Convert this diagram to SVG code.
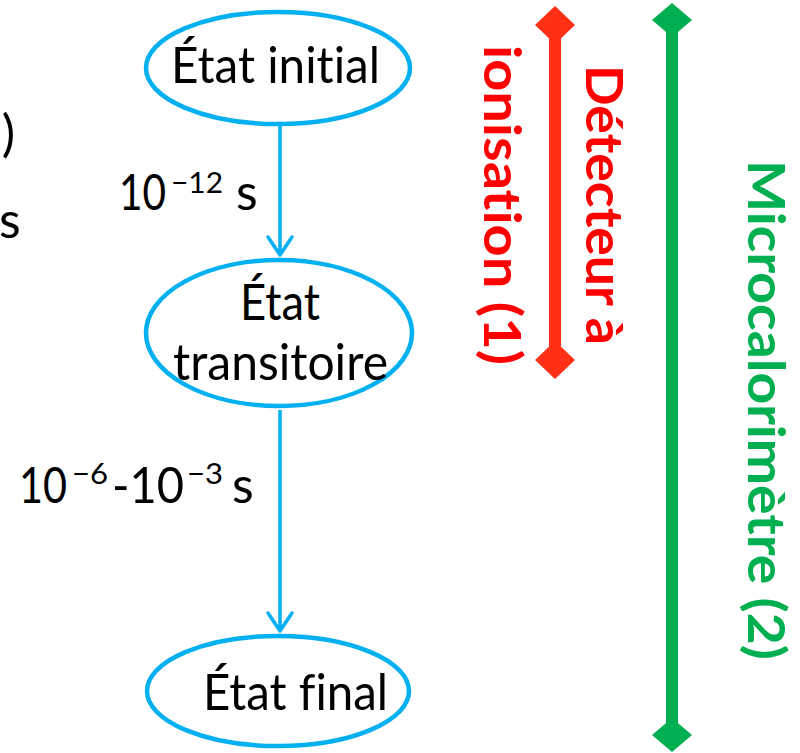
<svg xmlns="http://www.w3.org/2000/svg" width="800" height="753" viewBox="0 0 800 753">
  <defs>
    <style>
      text { font-variant-ligatures: none; font-feature-settings: "liga" 0, "clig" 0; }
      .state { fill: #ffffff; stroke: #00B0F0; stroke-width: 4.5; }
      .lbl { font-family: Lato, "Open Sans", sans-serif; font-size: 50px; fill: #000000; }
      .sup { font-size: 29px; }
      .flow { stroke: #00B0F0; stroke-width: 3.5; fill: none; }
      .head { stroke: #00B0F0; stroke-width: 3.5; fill: none; stroke-linecap: round; stroke-linejoin: round; }
      .red { font-family: Lato, "Open Sans", sans-serif; font-weight: bold; font-size: 52px; fill: #FF0000; }
      .green { font-family: Lato, "Open Sans", sans-serif; font-weight: bold; font-size: 52px; fill: #00B050; }
    </style>
  </defs>

  <rect x="0" y="0" width="800" height="753" fill="#ffffff"/>

  <!-- fragments of text at the left edge -->
  <text class="lbl" x="15" y="151" text-anchor="end">)</text>
  <text class="lbl" x="-1" y="238">s</text>

  <!-- connectors -->
  <g id="connectors">
    <line class="flow" x1="280" y1="126" x2="280" y2="255"/>
    <polyline class="head" points="268,237 280,255 292,237"/>
    <line class="flow" x1="280" y1="410" x2="280" y2="631"/>
    <polyline class="head" points="268,613 280,631 292,613"/>
  </g>

  <!-- delay labels -->
  <g id="delay1">
    <text class="lbl" x="119" y="210" textLength="47" lengthAdjust="spacingAndGlyphs">10</text>
    <text class="lbl sup" x="171" y="193" textLength="52" lengthAdjust="spacingAndGlyphs">−12</text>
    <text class="lbl" x="236" y="210">s</text>
  </g>
  <g id="delay2">
    <text class="lbl" x="19" y="503" textLength="48" lengthAdjust="spacingAndGlyphs">10</text>
    <text class="lbl sup" x="72" y="484" textLength="36" lengthAdjust="spacingAndGlyphs">−6</text>
    <text class="lbl" x="112" y="503" textLength="72" lengthAdjust="spacingAndGlyphs">-10</text>
    <text class="lbl sup" x="187" y="484" textLength="36" lengthAdjust="spacingAndGlyphs">−3</text>
    <text class="lbl" x="232" y="503">s</text>
  </g>

  <!-- states -->
  <g id="etat-initial">
    <ellipse class="state" cx="278" cy="68" rx="132" ry="56"/>
    <text class="lbl" x="171" y="83" textLength="209" lengthAdjust="spacingAndGlyphs">État initial</text>
  </g>
  <g id="etat-transitoire">
    <ellipse class="state" cx="279" cy="333" rx="133" ry="73"/>
    <text class="lbl" x="240" y="320" textLength="80" lengthAdjust="spacingAndGlyphs">État</text>
    <text class="lbl" x="173" y="380" textLength="215" lengthAdjust="spacingAndGlyphs">transitoire</text>
  </g>
  <g id="etat-final">
    <ellipse class="state" cx="278" cy="691" rx="131" ry="55"/>
    <text class="lbl" x="203" y="710" textLength="185" lengthAdjust="spacingAndGlyphs">État final</text>
  </g>

  <!-- ionisation detector range -->
  <g id="detecteur-ionisation">
    <line x1="555" y1="25" x2="555" y2="360" stroke="#FF3016" stroke-width="12"/>
    <polygon points="555,6 575,25 555,44 535,25" fill="#FF3016"/>
    <polygon points="555,341 575,360 555,379 535,360" fill="#FF3016"/>
    <text class="red" transform="translate(586,65) rotate(90)" x="0" y="0" textLength="280" lengthAdjust="spacingAndGlyphs">Détecteur à</text>
    <text class="red" transform="translate(484,45) rotate(90)" x="0" y="0" textLength="320" lengthAdjust="spacingAndGlyphs">ionisation (1)</text>
  </g>

  <!-- microcalorimeter range -->
  <g id="microcalorimetre">
    <line x1="672" y1="20" x2="672" y2="735" stroke="#00B050" stroke-width="12"/>
    <polygon points="672,3 692,20 672,37 652,20" fill="#00B050"/>
    <polygon points="672,718 692,735 672,752 652,735" fill="#00B050"/>
    <text class="green" transform="translate(748,160) rotate(90)" x="0" y="0" textLength="500" lengthAdjust="spacingAndGlyphs">Microcalorimètre (2)</text>
  </g>
</svg>
